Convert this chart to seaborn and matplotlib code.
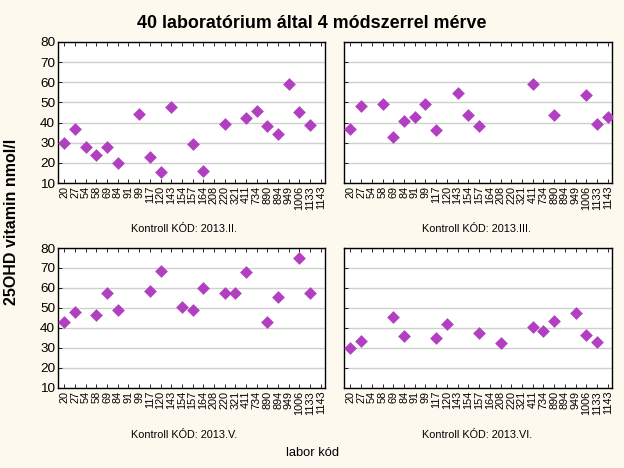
import pandas as pd
import numpy as np
import matplotlib
matplotlib.use("Agg")
import matplotlib.pyplot as plt
import seaborn as sns

labs = ["20", "27", "54", "58", "69", "84", "91", "99", "117", "120", "143", "154",
        "157", "164", "208", "220", "321", "411", "734", "890", "894", "949", "1006",
        "1133", "1143"]
nan = np.nan

# 25OHD values per lab, one list per control round (NaN = no result)
v_2013_II = [30, 37, 28, 24, 28, 20, nan, 44.5, 23, 15.3, 47.5, nan, 29.5, 15.8, nan,
             39.5, nan, 42.5, 45.5, 38.5, 34.4, 59, 45, 39, nan]
v_2013_III = [37, 48, nan, 49.2, 33, 41, 43, 49.2, 36.5, nan, 54.5, 44, 38.5, nan, nan,
              nan, nan, 59, nan, 44, nan, nan, 53.5, 39.5, 43]
v_2013_V = [42.8, 48.2, nan, 46.3, 57.7, 48.8, nan, nan, 58.3, 68.3, nan, 50.3, 48.8, 60,
            nan, 57.3, 57.3, 67.8, nan, 42.8, 55.7, nan, 75.2, 57.3, nan]
v_2013_VI = [30.2, 33.3, nan, nan, 45.3, 36, nan, nan, 34.8, 41.8, nan, nan, 37.3, nan,
             32.3, nan, nan, 40.7, 38.7, 43.3, nan, 47.3, 36.3, 33, nan]

panels = [("2013.II.", v_2013_II), ("2013.III.", v_2013_III),
          ("2013.V.", v_2013_V), ("2013.VI.", v_2013_VI)]

sns.set_theme(style="white")
plt.rcParams["font.family"] = ["Liberation Sans", "DejaVu Sans"]

fig = plt.figure(figsize=(6.24, 4.68), dpi=100)
fig.patch.set_facecolor("#FDF9EE")

W, H = 624, 468
boxes = [(58, 42, 325, 183), (344, 42, 612, 183),
         (58, 248, 325, 388), (344, 248, 612, 388)]
sub_pos = [(184, 229), (477, 229), (184, 435), (477, 435)]

for i, ((kod, vals), (x0, y0, x1, y1)) in enumerate(zip(panels, boxes)):
    ax = fig.add_axes([x0 / W, 1 - y1 / H, (x1 - x0) / W, (y1 - y0) / H])
    ax.set_facecolor("white")
    df = pd.DataFrame({"labor": labs, "ertek": vals}).dropna()
    sns.stripplot(data=df, x="labor", y="ertek", order=labs, jitter=False,
                  marker="D", size=6.5, color="#B040C0", linewidth=0, ax=ax)
    ax.set_ylim(10, 80)
    ax.set_xlim(-0.6, 24.4)
    ax.set_yticks(range(10, 81, 10))
    ax.yaxis.grid(True, color="#CFCFCF", linewidth=1)
    ax.set_axisbelow(True)
    ax.set_xlabel("")
    ax.set_ylabel("")
    for s in ax.spines.values():
        s.set_color("black")
        s.set_linewidth(1)
    ax.tick_params(axis="x", direction="in", top=True, bottom=True, length=3,
                   width=0.6, labelsize=7.8, rotation=90, pad=2, colors="black")
    ax.tick_params(axis="y", direction="in", left=True, right=False, length=3,
                   width=0.6, labelsize=9.7, pad=2, colors="black")
    if i % 2 == 1:
        ax.set_yticklabels([])
    sx, sy = sub_pos[i]
    fig.text(sx / W, 1 - sy / H, f"Kontroll KÓD: {kod}",
             ha="center", va="center", fontsize=7.8, color="black")

fig.text(312 / W, 1 - 28 / H, "40 laboratórium által 4 módszerrel mérve",
         ha="center", va="baseline", fontsize=12.9, fontweight="bold", color="black")
fig.text(12 / W, 1 - 222 / H, "25OHD vitamin nmol/l", rotation=90,
         ha="center", va="center", fontsize=11.5, fontweight="bold", color="black")
fig.text(313 / W, 1 - 453 / H, "labor kód", ha="center", va="center",
         fontsize=9.3, color="black")

fig.savefig("out.png", dpi=100, facecolor=fig.get_facecolor())
